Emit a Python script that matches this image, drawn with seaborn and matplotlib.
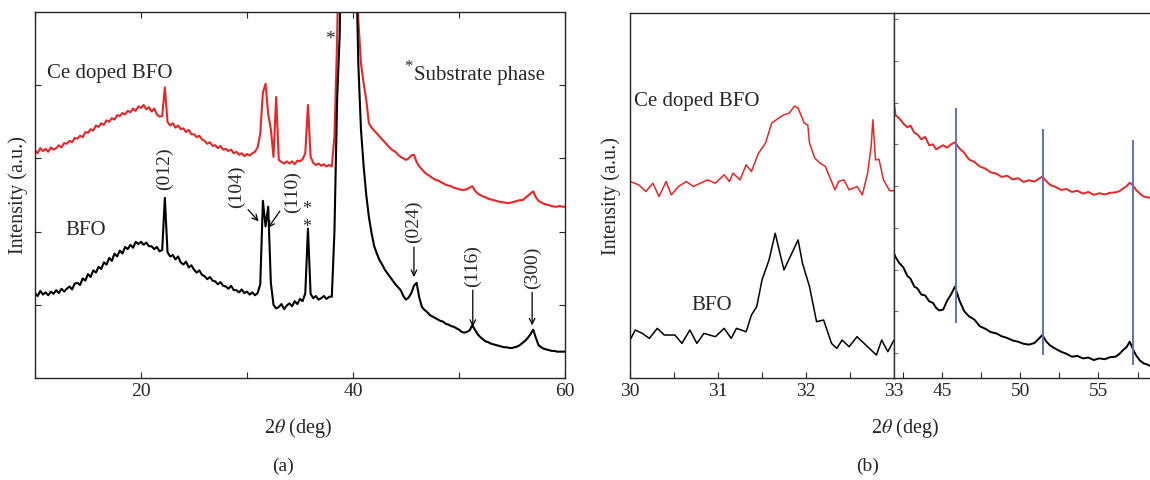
import numpy as np
import matplotlib
matplotlib.use("Agg")
import matplotlib.pyplot as plt
import seaborn as sns

# ---- panel (a): full scan, values read every 0.25 deg from 10 to 60 ----
two_theta_a = np.arange(10, 60.001, 0.25)

bfo_a = [
    1.16, 1.12, 1.19, 1.14, 1.17, 1.13, 1.18, 1.15, 1.20, 1.16, 1.22, 1.18, 1.22, 1.25, 1.21, 1.29, 1.30, 1.27, 1.36, 1.33,
    1.42, 1.38, 1.47, 1.44, 1.52, 1.49, 1.58, 1.55, 1.64, 1.60, 1.70, 1.66, 1.74, 1.70, 1.79, 1.76, 1.82, 1.78, 1.86, 1.83,
    1.86, 1.82, 1.85, 1.80, 1.80, 1.76, 1.79, 1.73, 1.75, 2.46, 1.72, 1.66, 1.68, 1.62, 1.66, 1.58, 1.55, 1.59, 1.51, 1.54,
    1.48, 1.44, 1.47, 1.41, 1.39, 1.35, 1.38, 1.33, 1.32, 1.28, 1.31, 1.26, 1.25, 1.22, 1.26, 1.20, 1.20, 1.17, 1.21, 1.16,
    1.18, 1.14, 1.17, 1.13, 1.16, 1.28, 2.42, 2.07, 2.34, 1.30, 1.00, 0.95, 0.97, 1.01, 0.94, 0.99, 1.02, 0.98, 1.05, 1.01,
    1.08, 1.05, 1.16, 2.04, 1.15, 1.09, 1.12, 1.07, 1.09, 1.12, 1.08, 1.11, 1.11, 2.00, 3.80, 4.70, 9.0, 16.0, 20.0, 20.0,
    12.0, 6.0, 4.3, 3.4, 2.9, 2.5, 2.2, 1.98, 1.80, 1.70, 1.61, 1.55, 1.48, 1.43, 1.38, 1.33, 1.28, 1.24, 1.20, 1.12,
    1.07, 1.10, 1.16, 1.26, 1.30, 1.10, 0.97, 0.93, 0.90, 0.86, 0.84, 0.82, 0.80, 0.78, 0.77, 0.74, 0.73, 0.71, 0.70, 0.68,
    0.66, 0.63, 0.62, 0.63, 0.65, 0.72, 0.66, 0.60, 0.56, 0.53, 0.50, 0.49, 0.47, 0.46, 0.45, 0.44, 0.43, 0.42, 0.42, 0.41,
    0.41, 0.42, 0.43, 0.45, 0.48, 0.51, 0.55, 0.60, 0.66, 0.55, 0.45, 0.42, 0.40, 0.39, 0.38, 0.37, 0.37, 0.36, 0.36, 0.36,
    0.36,
]

ce_bfo_a = [
    3.11, 3.07, 3.14, 3.10, 3.13, 3.09, 3.15, 3.12, 3.14, 3.18, 3.15, 3.21, 3.20, 3.24, 3.22, 3.28, 3.27, 3.31, 3.29, 3.36,
    3.35, 3.40, 3.38, 3.45, 3.43, 3.48, 3.46, 3.52, 3.50, 3.55, 3.53, 3.59, 3.58, 3.62, 3.60, 3.65, 3.63, 3.68, 3.65, 3.71,
    3.69, 3.73, 3.67, 3.70, 3.64, 3.68, 3.60, 3.57, 3.58, 3.97, 3.50, 3.45, 3.48, 3.42, 3.45, 3.40, 3.41, 3.36, 3.39, 3.33,
    3.33, 3.29, 3.31, 3.26, 3.24, 3.20, 3.22, 3.17, 3.18, 3.14, 3.17, 3.12, 3.13, 3.10, 3.12, 3.07, 3.09, 3.05, 3.07, 3.03,
    3.06, 3.04, 3.07, 3.09, 3.15, 3.34, 3.90, 4.02, 3.60, 3.40, 3.02, 3.84, 2.98, 2.95, 2.93, 2.96, 2.93, 2.96, 2.92, 2.97,
    2.96, 2.99, 3.07, 3.73, 3.02, 2.94, 2.91, 2.93, 2.90, 2.92, 2.89, 2.91, 2.89, 3.30, 4.60, 7.0, 12.0, 16.0, 20.0, 20.0,
    16.0, 6.5, 4.9, 4.3, 4.03, 3.80, 3.48, 3.42, 3.38, 3.34, 3.30, 3.26, 3.22, 3.18, 3.14, 3.11, 3.09, 3.05, 3.02, 3.00,
    2.98, 3.00, 3.04, 3.05, 2.95, 2.89, 2.85, 2.81, 2.78, 2.76, 2.73, 2.71, 2.70, 2.68, 2.66, 2.64, 2.63, 2.62, 2.60, 2.59,
    2.58, 2.57, 2.57, 2.58, 2.60, 2.62, 2.56, 2.52, 2.50, 2.48, 2.47, 2.45, 2.44, 2.43, 2.42, 2.41, 2.40, 2.40, 2.39, 2.39,
    2.40, 2.41, 2.42, 2.43, 2.43, 2.46, 2.49, 2.52, 2.55, 2.47, 2.42, 2.40, 2.38, 2.37, 2.36, 2.35, 2.34, 2.34, 2.35, 2.34,
    2.34,
]

# ---- panel (b) left: zoom on 30-33 deg ----
two_theta_b1_ce = [30.00, 30.10, 30.18, 30.26, 30.33, 30.41, 30.47, 30.55, 30.64, 30.72, 30.80, 30.88, 30.97, 31.07,
                   31.13, 31.17, 31.25, 31.32, 31.38, 31.46, 31.54, 31.61, 31.69, 31.75, 31.81, 31.87, 31.91, 31.98,
                   32.02, 32.04, 32.10, 32.16, 32.22, 32.29, 32.33, 32.37, 32.43, 32.49, 32.58, 32.64, 32.70, 32.74,
                   32.76, 32.79, 32.83, 32.88, 32.95, 33.00]
ce_bfo_b1 = [4.11, 4.03, 3.87, 4.07, 3.75, 4.11, 3.79, 3.99, 4.11, 3.99, 4.07, 4.15, 4.07, 4.27,
             4.11, 4.31, 4.15, 4.51, 4.35, 4.79, 5.03, 5.51, 5.63, 5.71, 5.75, 5.92, 5.87, 5.51,
             5.47, 5.03, 4.67, 4.55, 4.47, 4.11, 3.91, 4.11, 4.15, 3.91, 3.99, 3.79, 4.31, 4.95,
             5.59, 4.63, 4.64, 4.15, 3.89, 3.89]

two_theta_b1_bfo = [30.00, 30.06, 30.14, 30.22, 30.31, 30.39, 30.51, 30.59, 30.68, 30.76, 30.84, 30.97, 31.07,
                    31.15, 31.21, 31.32, 31.38, 31.44, 31.50, 31.58, 31.65, 31.69, 31.75, 31.83, 31.91, 31.96,
                    32.04, 32.12, 32.20, 32.29, 32.35, 32.41, 32.49, 32.58, 32.66, 32.74, 32.80, 32.86, 32.93, 33.00]
bfo_b1 = [0.31, 0.55, 0.47, 0.35, 0.59, 0.43, 0.43, 0.23, 0.55, 0.23, 0.47, 0.39, 0.59,
          0.35, 0.59, 0.51, 0.91, 1.11, 1.75, 2.23, 2.87, 2.51, 1.99, 2.35, 2.71, 2.15,
          1.59, 0.75, 0.79, 0.23, 0.11, 0.31, 0.15, 0.39, 0.23, 0.07, -0.05, 0.31, 0.03, 0.31]

# ---- panel (b) right: 42-58 deg ----
two_theta_b2 = [41.9, 42.0, 42.25, 42.5, 42.75, 42.96, 43.2, 43.4, 43.65, 43.9, 44.15, 44.4, 44.6, 44.8, 45.05,
                45.3, 45.55, 45.8, 46.1, 46.4, 46.7, 47.05, 47.4, 47.75, 48.1, 48.45, 48.8, 49.15, 49.5, 49.85,
                50.2, 50.55, 50.9, 51.15, 51.4, 51.65, 51.9, 52.25, 52.6, 52.95, 53.3, 53.65, 54.0, 54.35, 54.7,
                55.05, 55.4, 55.75, 56.1, 56.35, 56.6, 56.8, 57.0, 57.2, 57.4, 57.65, 57.9, 58.15, 58.4]
ce_bfo_b2 = [5.98, 5.70, 5.62, 5.50, 5.41, 5.45, 5.28, 5.24, 5.12, 5.18, 4.98, 5.00, 4.88, 4.93, 4.98,
             4.92, 5.00, 5.05, 4.90, 4.80, 4.64, 4.58, 4.47, 4.42, 4.33, 4.30, 4.22, 4.25, 4.16, 4.19,
             4.10, 4.14, 4.11, 4.17, 4.23, 4.12, 4.03, 3.98, 3.91, 3.93, 3.86, 3.89, 3.82, 3.86, 3.79,
             3.83, 3.80, 3.84, 3.85, 3.88, 3.95, 4.00, 4.08, 4.02, 3.91, 3.82, 3.75, 3.73, 3.71]
bfo_b2 = [2.39, 2.30, 2.15, 2.05, 1.85, 1.78, 1.59, 1.55, 1.40, 1.38, 1.24, 1.20, 1.08, 1.02, 1.04,
          1.25, 1.40, 1.59, 1.25, 1.00, 0.88, 0.80, 0.64, 0.58, 0.50, 0.47, 0.40, 0.36, 0.30, 0.27,
          0.22, 0.20, 0.24, 0.33, 0.43, 0.28, 0.18, 0.10, 0.03, -0.02, -0.09, -0.07, -0.13, -0.11, -0.17,
          -0.13, -0.15, -0.10, -0.09, -0.02, 0.08, 0.14, 0.27, 0.10, -0.05, -0.18, -0.25, -0.28, -0.33]

# reference peak markers (blue lines)
ref_x = [45.85, 51.45, 57.2]
ref_lo = [0.71, -0.05, -0.30]
ref_hi = [5.87, 5.36, 5.11]

RED = "#ec2424"
BLUE = "#5a72c8"

sns.set_style("ticks")
plt.rcParams["font.family"] = ["Liberation Serif", "DejaVu Serif"]
plt.rcParams["mathtext.fontset"] = "stix"
plt.rcParams["axes.linewidth"] = 1.0

W, H = 1150, 480
fig = plt.figure(figsize=(11.5, 4.8), dpi=100)


def box(l, t, r, b):
    return [l / W, 1 - b / H, (r - l) / W, (b - t) / H]


def trace(ax, x, y, color, lw=1.2):
    sns.lineplot(x=x, y=y, ax=ax, color=color, lw=lw, estimator=None, sort=False, legend=False)


# ---------------- panel (a) ----------------
ax = fig.add_axes(box(35, 12, 565, 378))
trace(ax, two_theta_a, ce_bfo_a, RED, lw=1.5)
trace(ax, two_theta_a, bfo_a, "black", lw=1.5)
ax.set_xlim(10, 60)
ax.set_ylim(0, 5)
ax.set_xticks([10, 20, 30, 40, 50, 60])
ax.set_xticklabels(["", "20", "", "40", "", "60"])
ax.set_yticks([1, 2, 3, 4])
ax.set_yticklabels([])
ax.tick_params(direction="in", length=4, width=0.8, top=True, right=True, labelsize=14)
ax.set_xlabel("")
ax.set_ylabel("")

ax.text(11.1, 4.16, "Ce doped BFO", fontsize=15, va="center")
ax.text(12.85, 2.01, "BFO", fontsize=15, va="center")
ax.text(45.2, 4.25, "*", fontsize=12, va="center", ha="center")
ax.text(45.8, 4.13, "Substrate phase", fontsize=15, va="center")
ax.text(37.8, 4.62, "*", fontsize=14, va="center", ha="center")
ax.text(35.66, 2.30, "*", fontsize=13, va="center", ha="center")
ax.text(35.66, 2.06, "*", fontsize=13, va="center", ha="center")

ax.text(22.2, 2.86, "(012)", rotation=90, fontsize=14, ha="center", va="center")
ax.text(29.0, 2.61, "(104)", rotation=90, fontsize=14, ha="center", va="center")
ax.text(34.25, 2.54, "(110)", rotation=90, fontsize=14, ha="center", va="center")
arrow = dict(arrowstyle="->", color="black", lw=0.9, shrinkA=0, shrinkB=0)
ax.annotate("", xy=(31.1, 2.14), xytext=(30.1, 2.30), arrowprops=arrow)
ax.annotate("", xy=(32.0, 2.05), xytext=(33.1, 2.28), arrowprops=arrow)
for lx, ty, y0, y1, lab in [(45.75, 2.13, 1.79, 1.38, "(024)"),
                            (51.3, 1.53, 1.20, 0.70, "(116)"),
                            (56.9, 1.50, 1.17, 0.72, "(300)")]:
    ax.text(lx, ty, lab, rotation=90, fontsize=14, ha="center", va="center")
    ax.annotate("", xy=(lx, y1), xytext=(lx, y0), arrowprops=arrow)

# ---------------- panel (b) ----------------
axl = fig.add_axes(box(630, 13, 894, 378))
trace(axl, two_theta_b1_ce, ce_bfo_b1, RED, lw=1.1)
trace(axl, two_theta_b1_bfo, bfo_b1, "black", lw=1.1)
axl.set_xlim(30, 33)
axl.set_ylim(-0.6, 8.15)
axl.set_xticks([30, 30.5, 31, 31.5, 32, 32.5, 33])
axl.set_xticklabels(["30", "", "31", "", "32", "", "33"])
axl.set_yticks([])
axl.tick_params(direction="in", length=4, width=0.8, labelsize=14)
axl.set_xlabel("")
axl.set_ylabel("")
axl.text(30.04, 6.03, "Ce doped BFO", fontsize=15, va="center")
axl.text(30.7, 1.15, "BFO", fontsize=15, va="center")

axr = fig.add_axes(box(894, 13, 1150, 378))
trace(axr, two_theta_b2, ce_bfo_b2, RED, lw=1.4)
trace(axr, two_theta_b2, bfo_b2, "black", lw=1.4)
axr.vlines(ref_x, ref_lo, ref_hi, color=BLUE, lw=1.4)
axr.set_xlim(41.9, 58.3)
axr.set_ylim(-0.6, 8.15)
axr.set_xticks([42.5, 45, 47.5, 50, 52.5, 55, 57.5])
axr.set_xticklabels(["", "45", "", "50", "", "55", ""])
axr.set_yticks(range(0, 9))
axr.set_yticklabels([])
axr.tick_params(axis="x", direction="in", length=4, width=0.8, labelsize=14)
axr.tick_params(axis="y", direction="in", length=3, width=0.8, colors="#777777")
axr.spines["right"].set_visible(False)
axr.spines["left"].set_color("#333333")
axr.set_xlabel("")
axr.set_ylabel("")

# axis titles and panel letters
for x, y, s, size, kw in [(18, 195, "Intensity (a.u.)", 14.5, dict(rotation=90)),
                          (611, 196, "Intensity (a.u.)", 14.5, dict(rotation=90)),
                          (298, 428, "2$\\theta$ (deg)", 14.5, {}),
                          (905, 428, "2$\\theta$ (deg)", 14.5, {}),
                          (283, 466, "(a)", 14, {}),
                          (868, 466, "(b)", 14, {})]:
    fig.text(x / W, 1 - y / H, s, fontsize=size, ha="center", va="center", **kw)

fig.savefig("out.png", dpi=100)
